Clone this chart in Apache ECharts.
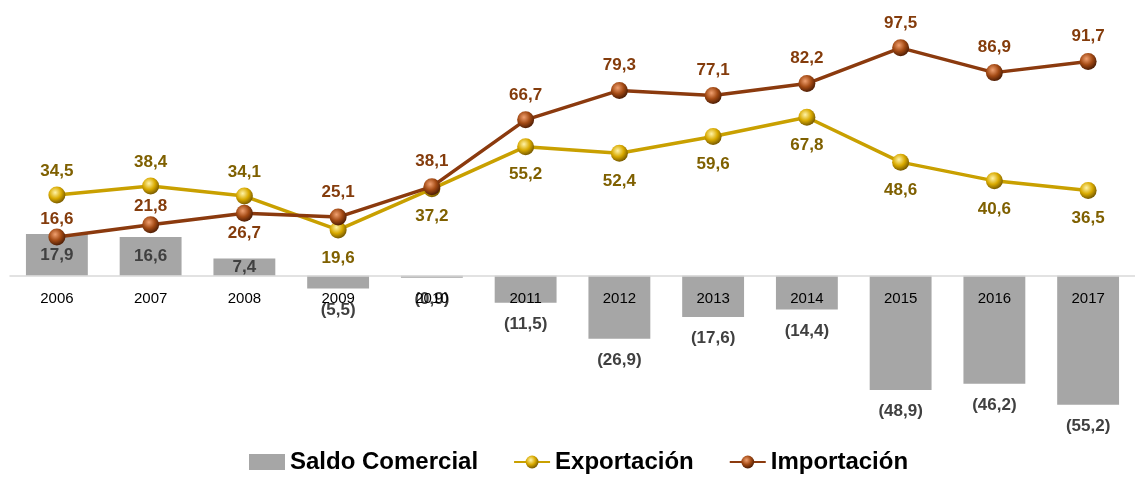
<!DOCTYPE html>
<html>
<head>
<meta charset="utf-8">
<script src="https://cdn.jsdelivr.net/npm/echarts@6/dist/echarts.min.js"></script>
<style>
  html, body { margin: 0; padding: 0; background: #fff; }
  #chart { width: 1135px; height: 481px; }
</style>
</head>
<body>
<div id="chart"></div>
<script>
// datos
const years = ['2006', '2007', '2008', '2009', '2010', '2011', '2012', '2013', '2014', '2015', '2016', '2017']
const saldo = [17.9, 16.6, 7.4, -5.5, -0.9, -11.5, -26.9, -17.6, -14.4, -48.9, -46.2, -55.2]
const exportacion = [34.5, 38.4, 34.1, 19.6, 37.2, 55.2, 52.4, 59.6, 67.8, 48.6, 40.6, 36.5]
const importacion = [16.6, 21.8, 26.7, 25.1, 38.1, 66.7, 79.3, 77.1, 82.2, 97.5, 86.9, 91.7]

// donde va cada etiqueta (arriba / abajo del punto)
const expLabelPos = ['top', 'top', 'top', 'bottom', 'bottom', 'bottom', 'bottom', 'bottom', 'bottom', 'bottom', 'bottom', 'bottom']
const impLabelPos = ['top', 'top', 'bottom', 'top', 'top', 'top', 'top', 'top', 'top', 'top', 'top', 'top']

const font = '"Liberation Sans", sans-serif'

const yMin = -60
const yMax = 100
const gridTop = 42
const gridBottom = 65
const plotH = 481 - gridTop - gridBottom
// los años van pegados a la linea del cero, no abajo del grid
const labelMargin = -(0 - yMin) * plotH / (yMax - yMin) + 16

function fmt(v) {
  let s = Math.abs(v).toFixed(1).replace('.', ',')
  return v < 0 ? '(' + s + ')' : s
}

function ball(light, mid, dark) {
  return {
    type: 'radial', x: 0.4, y: 0.35, r: 0.65,
    colorStops: [
      { offset: 0, color: light },
      { offset: 0.55, color: mid },
      { offset: 1, color: dark }
    ]
  }
}

const goldBall = ball('#fff3a8', '#d9aa00', '#7a5c00')
const brownBall = ball('#f0a070', '#a34a14', '#4f1e05')

let chart = echarts.init(document.getElementById('chart'))
chart.setOption({
  animation: false,
  textStyle: { fontFamily: font },
  legend: {
    bottom: 2,
    left: 244,
    itemWidth: 36,
    itemHeight: 16,
    itemGap: 35,
    textStyle: { fontSize: 24, fontWeight: 'bold', color: '#000', fontFamily: font },
    data: [
      { name: 'Saldo Comercial', icon: 'rect' },
      'Exportación',
      'Importación'
    ]
  },
  grid: { left: 10, right: -9, top: gridTop, bottom: gridBottom, containLabel: false },
  xAxis: {
    type: 'category',
    data: years,
    z: 5,
    axisLine: { onZero: true, lineStyle: { color: '#d9d9d9', width: 1.5 } },
    axisTick: { show: false },
    axisLabel: { color: '#000', fontSize: 15, margin: labelMargin, fontFamily: font }
  },
  yAxis: {
    type: 'value',
    min: yMin,
    max: yMax,
    show: false,
    splitLine: { show: false }
  },
  series: [
    {
      name: 'Saldo Comercial',
      type: 'bar',
      barWidth: '66%',
      itemStyle: { color: '#a6a6a6' },
      data: saldo.map(v => ({
        value: v,
        label: { position: v < 0 ? 'outside' : 'inside', distance: 13 }
      })),
      label: {
        show: true,
        color: '#404040',
        fontWeight: 'bold',
        fontSize: 17,
        formatter: p => fmt(p.value)
      }
    },
    {
      name: 'Exportación',
      type: 'line',
      z: 10,
      symbol: 'circle',
      symbolSize: 17,
      lineStyle: { color: '#c9a000', width: 3.5 },
      itemStyle: { color: goldBall },
      data: exportacion.map((v, i) => ({
        value: v,
        label: { position: expLabelPos[i], distance: expLabelPos[i] === 'top' ? 7 : 11 }
      })),
      label: {
        show: true,
        color: '#7f6000',
        fontWeight: 'bold',
        fontSize: 17,
        formatter: p => fmt(p.value)
      }
    },
    {
      name: 'Importación',
      type: 'line',
      z: 11,
      symbol: 'circle',
      symbolSize: 17,
      lineStyle: { color: '#8b3a0e', width: 3.5 },
      itemStyle: { color: brownBall },
      data: importacion.map((v, i) => ({
        value: v,
        label: { position: impLabelPos[i], distance: i < 2 ? 1 : (impLabelPos[i] === 'top' ? 8 : 3) }
      })),
      label: {
        show: true,
        color: '#843c0c',
        fontWeight: 'bold',
        fontSize: 17,
        formatter: p => fmt(p.value)
      }
    }
  ]
})
</script>
</body>
</html>
